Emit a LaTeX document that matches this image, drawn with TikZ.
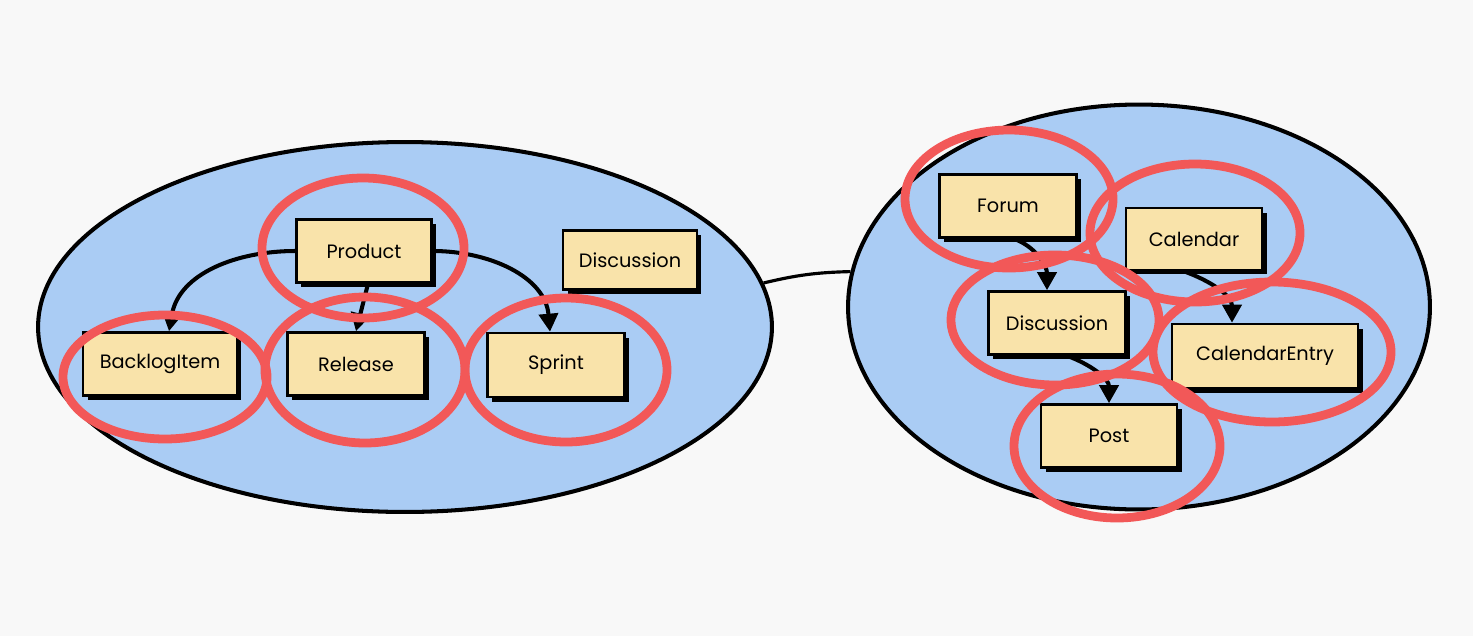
\documentclass[tikz,border=0pt]{standalone}
\usepackage{fontspec}
\setmainfont{Poppins}
\usetikzlibrary{shapes.geometric,arrows.meta,shadows,calc}
\definecolor{bgc}{HTML}{F8F8F8}
\definecolor{ctxblue}{HTML}{AACCF4}
\definecolor{boxyel}{HTML}{F9E3AA}
\definecolor{hired}{HTML}{F25858}
\tikzset{
  ctx/.style={ellipse, draw=black, line width=2.3pt, fill=ctxblue, inner sep=0pt},
  entity/.style={rectangle, draw=black, line width=1.5pt, fill=boxyel,
    font=\fontsize{11}{13}\selectfont, inner sep=0pt,
    drop shadow={shadow xshift=0.09cm, shadow yshift=-0.09cm, fill=black, opacity=1}},
  assoc/.style={line width=2.3pt, -{Triangle[length=0.36cm,width=0.38cm]}},
  hilite/.style={draw=hired, line width=5pt},
}
\begin{document}
\begin{tikzpicture}[x=0.02cm,y=-0.02cm]
\useasboundingbox (0,0) rectangle (1473,636);
\fill[bgc] (0,0) rectangle (1473,636);
% bounded contexts
\node[ctx, minimum width=14.68cm, minimum height=7.4cm] (leftctx) at (405,327) {};
\node[ctx, minimum width=11.64cm, minimum height=8.1cm] (rightctx) at (1139,307) {};
\draw[line width=1.8pt] (leftctx.7) to[bend left=6] (rightctx.173);
% left entities
\node[entity, minimum width=2.7cm, minimum height=1.26cm] (product) at (364,251) {Product};
\node[entity, minimum width=3.08cm, minimum height=1.26cm] (backlog) at (160,364) {BacklogItem};
\node[entity, minimum width=2.74cm, minimum height=1.26cm] (release) at (356,364) {Release};
\node[entity, minimum width=2.74cm, minimum height=1.28cm] (sprint) at (556,365) {Sprint};
\node[entity, minimum width=2.68cm, minimum height=1.18cm] (discl) at (630,260) {Discussion};
\draw[assoc] (product.west) to[out=180,in=80] ($(backlog.north)+(9,0)$);
\draw[assoc] ($(product.south)+(4,0)$) -- (release.north);
\draw[assoc] (product.east) to[out=0,in=95] ($(sprint.north)+(-6,0)$);
% right entities
\node[entity, minimum width=2.74cm, minimum height=1.26cm] (forum) at (1008,206) {Forum};
\node[entity, minimum width=2.72cm, minimum height=1.24cm] (calendar) at (1194,239) {Calendar};
\node[entity, minimum width=2.74cm, minimum height=1.26cm] (discr) at (1057,323) {Discussion};
\node[entity, minimum width=3.72cm, minimum height=1.28cm] (calentry) at (1265,356) {CalendarEntry};
\node[entity, minimum width=2.72cm, minimum height=1.26cm] (post) at (1109,436) {Post};
\draw[assoc] ($(forum.south)+(6,0)$) to[out=-20,in=90] ($(discr.north)+(-10,0)$);
\draw[assoc] ($(discr.south)+(10,0)$) to[out=-20,in=90] (post.north);
\draw[assoc] ($(calendar.south)+(-10,0)$) to[out=-20,in=90] ($(calentry.north)+(-33,0)$);
% highlight rings
\draw[hilite] (363,248) ellipse (101 and 70);
\draw[hilite] (165,377) ellipse (102 and 62);
\draw[hilite] (365,370) ellipse (100 and 73);
\draw[hilite] (566,370) ellipse (101 and 72);
\draw[hilite] (1009,199) ellipse (104 and 69);
\draw[hilite] (1195,233) ellipse (105 and 69);
\draw[hilite] (1055,320) ellipse (104 and 65);
\draw[hilite] (1272,352) ellipse (119 and 70);
\draw[hilite] (1117,446) ellipse (103 and 72);
\end{tikzpicture}
\end{document}
